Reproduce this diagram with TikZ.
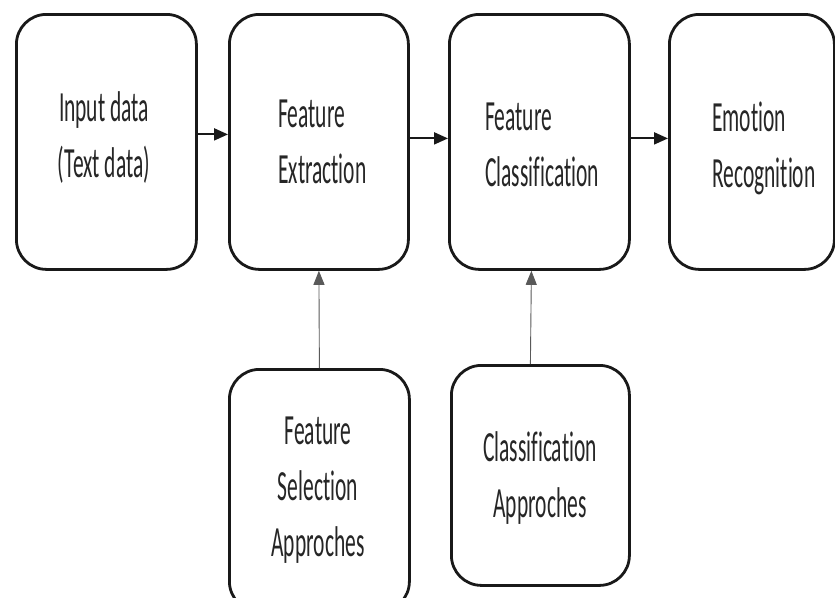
\documentclass[tikz,border=0pt]{standalone}
\usepackage{fontspec}
\setmainfont[FakeStretch=0.5,Ligatures=NoCommon]{Carlito}
\usetikzlibrary{arrows.meta}
\begin{document}
\begin{tikzpicture}[x=1pt,y=-1pt,
  box/.style={draw=black!90, line width=2.8pt, rounded corners=30pt, inner sep=0pt},
  lbl/.style={font=\fontsize{43}{56}\selectfont, text=black!85, inner sep=0pt},
  harrow/.style={-{Triangle[length=14pt,width=12pt]}, line width=2pt, draw=black!90},
  varrow/.style={-{Triangle[length=14pt,width=11pt]}, line width=0.9pt, draw=black!65}]
\useasboundingbox (0,0) rectangle (835,597);
\clip (0,0) rectangle (835,597);
\fill[white] (0,0) rectangle (835,597);
% boxes
\node[box, minimum width=180pt, minimum height=255pt, anchor=north west] (b1) at (15,13) {};
\node[box, minimum width=179pt, minimum height=255pt, anchor=north west] (b2) at (228,13) {};
\node[box, minimum width=180pt, minimum height=255pt, anchor=north west] (b3) at (448,13) {};
\node[box, minimum width=165pt, minimum height=255pt, anchor=north west] (b4) at (668,13) {};
\node[box, minimum width=180pt, minimum height=242pt, anchor=north west] (b5) at (228,368) {};
\node[box, minimum width=178pt, minimum height=220pt, anchor=north west] (b6) at (450,364) {};
% labels
\node[lbl, align=center] (t1) at (104,138) {Input data\\(Text data)};
\node[lbl, align=left, anchor=west] (t2) at (278,141.5) {Feature\\Extraction};
\node[lbl, align=left, anchor=west] (t3) at (485,145) {Feature\\Classification};
\node[lbl, align=left, anchor=west] (t4) at (712,148) {Emotion\\Recognition};
\node[lbl, align=center] (t5) at (318,490) {Feature\\Selection\\Approches};
\node[lbl, align=center] (t6) at (540,478) {Classification\\Approches};
% connectors
\draw[harrow] ([yshift=7.5pt]b1.east) -- ([yshift=7.5pt]b2.west);
\draw[harrow] ([yshift=3.5pt]b2.east) -- ([yshift=3.5pt]b3.west);
\draw[harrow] ([yshift=3.5pt]b3.east) -- ([yshift=3.5pt]b4.west);
\draw[varrow] (b5.north) -- (b2.south);
\draw[varrow] ([xshift=-10pt]b6.north) -- ([xshift=-8pt]b3.south);
\end{tikzpicture}
\end{document}
